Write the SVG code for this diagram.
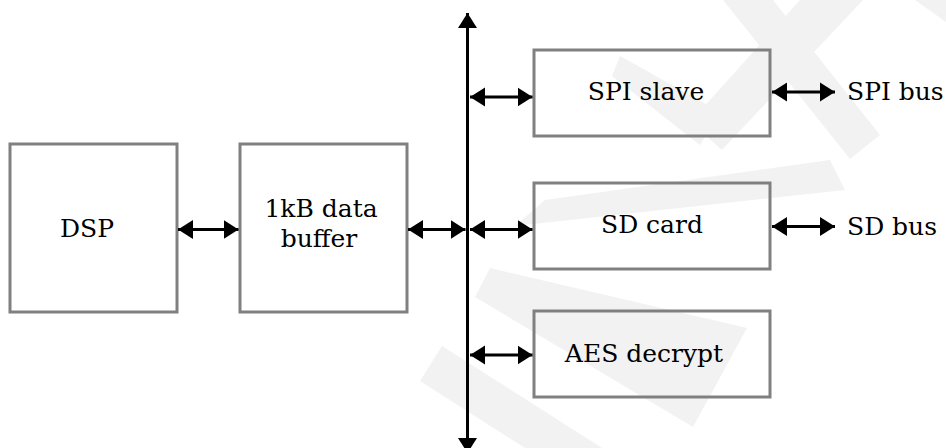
<svg xmlns="http://www.w3.org/2000/svg" width="946" height="448" viewBox="0 0 946 448">
<style>
.box{fill:none;stroke:#808080;stroke-width:3}
.lbl{font-family:"DejaVu Serif",serif;font-size:25px;fill:#000}
.c{stroke:#000;stroke-width:3;fill:none}
.wm{fill:#f2f2f2;stroke:none}
</style>
<defs>
<marker id="ah" markerUnits="userSpaceOnUse" markerWidth="16" markerHeight="20" viewBox="0 -10 16 20" refX="15" refY="0" orient="auto-start-reverse">
<path d="M0,-9.5 L15,0 L0,9.5 z" fill="#000"/>
</marker>
</defs>
<rect width="946" height="448" fill="#fff"/>
<g id="watermark">
<polygon class="wm" points="723,0 773,0 880,135 850,159"/>
<polygon class="wm" points="800,0 863,0 722,150 690,122"/>
<polygon class="wm" points="915,0 946,0 946,22"/>
<polygon class="wm" points="620,56 720,112 700,145 612,76"/>
<polygon class="wm" points="515,226 545,200 830,160 845,190"/>
<polygon class="wm" points="490,268 747,328 693,427 475,297"/>
<polygon class="wm" points="442,346 602,448 525,448 420,381"/>
</g>
<g id="dsp">
<rect class="box" x="10" y="144" width="167" height="168"/>
<text class="lbl" x="87" y="237" text-anchor="middle">DSP</text>
</g>
<g id="buffer">
<rect class="box" x="240" y="144" width="167" height="168"/>
<text class="lbl" x="321" y="217" text-anchor="middle">1kB data</text>
<text class="lbl" x="319" y="247" text-anchor="middle">buffer</text>
</g>
<g id="spi">
<rect class="box" x="534" y="50" width="236" height="86"/>
<text class="lbl" x="646" y="100" text-anchor="middle">SPI slave</text>
</g>
<g id="sd">
<rect class="box" x="534" y="183" width="236" height="86"/>
<text class="lbl" x="652" y="233" text-anchor="middle">SD card</text>
</g>
<g id="aes">
<rect class="box" x="534" y="311" width="236" height="86"/>
<text class="lbl" x="644" y="362" text-anchor="middle">AES decrypt</text>
</g>
<g id="spibus">
<text class="lbl" x="847" y="100">SPI bus</text>
</g>
<g id="sdbus">
<text class="lbl" x="847" y="235">SD bus</text>
</g>
<g id="connectors">
<line class="c" x1="467.5" y1="440" x2="467.5" y2="13" marker-end="url(#ah)" stroke-width="3.5"/>
<line class="c" x1="467.5" y1="30" x2="467.5" y2="453" marker-end="url(#ah)" stroke-width="3.5"/>
<line class="c" x1="178" y1="229.5" x2="238.5" y2="229.5" marker-start="url(#ah)" marker-end="url(#ah)"/>
<line class="c" x1="408" y1="229.5" x2="465.5" y2="229.5" marker-start="url(#ah)" marker-end="url(#ah)"/>
<line class="c" x1="470" y1="97" x2="532.5" y2="97" marker-start="url(#ah)" marker-end="url(#ah)"/>
<line class="c" x1="470" y1="229.5" x2="532.5" y2="229.5" marker-start="url(#ah)" marker-end="url(#ah)"/>
<line class="c" x1="470" y1="355" x2="532.5" y2="355" marker-start="url(#ah)" marker-end="url(#ah)"/>
<line class="c" x1="772" y1="92" x2="835" y2="92" marker-start="url(#ah)" marker-end="url(#ah)"/>
<line class="c" x1="772" y1="226.5" x2="835" y2="226.5" marker-start="url(#ah)" marker-end="url(#ah)"/>
</g>
</svg>
